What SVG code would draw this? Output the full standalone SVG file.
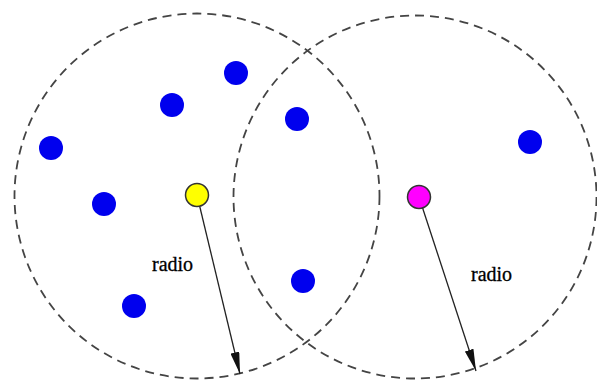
<svg xmlns="http://www.w3.org/2000/svg" width="597" height="380" viewBox="0 0 597 380">
  <style>
    .range { fill: none; stroke: #444; stroke-width: 1.8; stroke-dasharray: 9 6; }
    .node { fill: #0000ee; }
    .conn { stroke: #222; stroke-width: 1.3; fill: none; }
    .lbl { font-family: "Liberation Serif", "Times New Roman", serif; font-size: 20px; fill: #000; stroke: #000; stroke-width: 0.3; }
  </style>
  <defs>
    <marker id="arr" viewBox="0 0 22 9" refX="22" refY="4.5" markerWidth="22" markerHeight="9" markerUnits="userSpaceOnUse" orient="auto">
      <path d="M0,0 L22,4.5 L0,9 Z" fill="#111"/>
    </marker>
  </defs>
  <rect width="597" height="380" fill="#ffffff"/>
  <g id="ranges">
    <circle id="range-left" class="range" cx="197" cy="196" r="182.5"/>
    <circle id="range-right" class="range" cx="415" cy="197" r="181.5"/>
  </g>
  <g id="connectors">
    <line class="conn" x1="197" y1="195" x2="240" y2="374" marker-end="url(#arr)"/>
    <line class="conn" x1="419" y1="197" x2="476" y2="371" marker-end="url(#arr)"/>
  </g>
  <g id="n1"><circle class="node" cx="51" cy="148" r="12"/></g>
  <g id="n2"><circle class="node" cx="104" cy="204" r="12"/></g>
  <g id="n3"><circle class="node" cx="172" cy="105" r="12"/></g>
  <g id="n4"><circle class="node" cx="236" cy="73" r="12"/></g>
  <g id="n5"><circle class="node" cx="297" cy="119" r="12"/></g>
  <g id="n6"><circle class="node" cx="303" cy="281" r="12"/></g>
  <g id="n7"><circle class="node" cx="134" cy="306" r="12"/></g>
  <g id="n8"><circle class="node" cx="530" cy="142" r="12"/></g>
  <g id="yellow"><circle cx="197" cy="195" r="11.5" fill="#ffff00" stroke="#333" stroke-width="1.5"/></g>
  <g id="magenta"><circle cx="419" cy="197" r="11.5" fill="#ff00ff" stroke="#333" stroke-width="1.5"/></g>
  <g id="labels">
    <text class="lbl" x="152" y="271">radio</text>
    <text class="lbl" x="471" y="281">radio</text>
  </g>
</svg>
